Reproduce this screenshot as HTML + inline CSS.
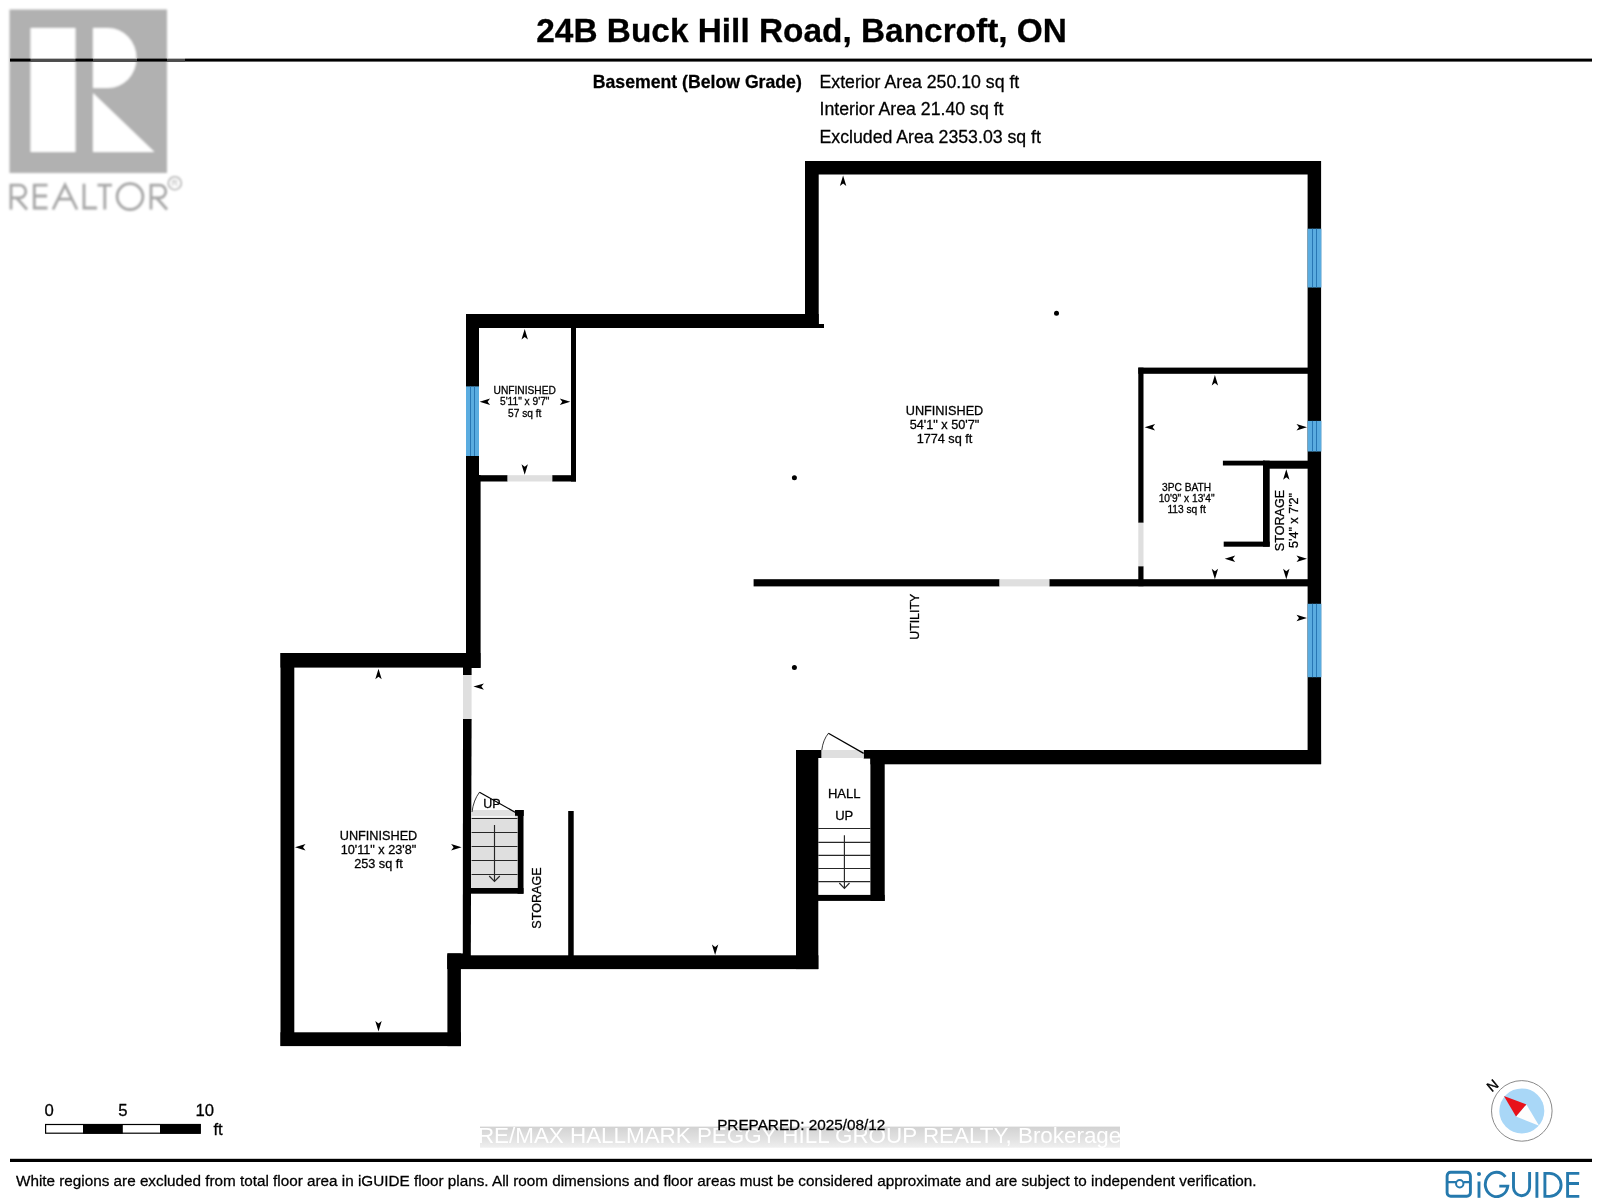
<!DOCTYPE html>
<html><head><meta charset="utf-8"><title>24B Buck Hill Road, Bancroft, ON</title>
<style>
html,body{margin:0;padding:0;background:#fff;}
body{width:1600px;height:1198px;overflow:hidden;position:relative;font-family:"Liberation Sans",sans-serif;}
svg{position:absolute;left:0;top:0;display:block;will-change:transform}
text{font-family:"Liberation Sans",sans-serif;fill:#000;stroke:#000;stroke-width:0.28px}
</style></head><body>
<svg width="1600" height="1198" viewBox="0 0 1600 1198">
<defs>
<linearGradient id="wm" x1="0" y1="0" x2="0" y2="1">
<stop offset="0" stop-color="#d2d2d2"/><stop offset="0.6" stop-color="#e2e2e2"/><stop offset="1" stop-color="#efefef"/>
</linearGradient>
<clipPath id="wmc"><rect x="480" y="1120" width="640" height="35"/></clipPath>
<filter id="bl" x="-5%" y="-5%" width="110%" height="110%"><feGaussianBlur stdDeviation="0.8"/></filter>
</defs>
<rect width="1600" height="1198" fill="#ffffff"/>

<!-- REALTOR logo -->
<g id="realtor" filter="url(#bl)">
<rect x="9.5" y="9.5" width="157.5" height="163.5" fill="#b1b1b1"/>
<rect x="30.5" y="28" width="45" height="124" fill="#fff"/>
<path d="M93 28 H108 A28.5 30 0 0 1 108 88 H93 Z" fill="#fff"/>
<path d="M93 93 L154.5 152 H93 Z" fill="#fff"/>
<g fill="none" stroke="#a6a6a6" stroke-width="2.8" stroke-linecap="butt" stroke-linejoin="miter">
<path d="M11 209.5 V185.2 H19.5 A6.3 6.3 0 0 1 19.5 197.8 H11 M16.5 197.8 L27 209.5"/>
<path d="M47.5 185.2 H34.3 V208 H47.5 M34.3 196 H47"/>
<path d="M53 209.5 L65 185 L77 209.5 M58 199.2 H72"/>
<path d="M84 183.8 V208 H97"/>
<path d="M97.5 185.2 H112 M104.8 185.2 V209.5"/>
<circle cx="130" cy="196.6" r="12.9"/>
<path d="M151 209.5 V185.2 H159.5 A6.3 6.3 0 0 1 159.5 197.8 H151 M156.5 197.8 L167 209.5"/>
</g>
<circle cx="174.8" cy="183.2" r="6.5" fill="none" stroke="#b4b4b4" stroke-width="1.6"/>
<text x="174.8" y="186.3" font-size="8.5" text-anchor="middle" style="fill:#b0b0b0;stroke:none">R</text>
</g>

<!-- header -->
<rect x="10" y="58.6" width="1582" height="3" fill="#000"/>
<g fill="#4c4c4c"><rect x="30.5" y="58.4" width="45" height="3.4"/><rect x="93" y="58.4" width="44" height="3.4"/><rect x="167" y="58.4" width="18" height="3.4"/></g><g fill="#fff" opacity="0.8"><rect x="30.5" y="58.2" width="45" height="0.7"/><rect x="93" y="58.2" width="44" height="0.7"/><rect x="167" y="58.2" width="18" height="0.7"/></g>
<text x="801.6" y="41.8" font-size="33.4" font-weight="bold" text-anchor="middle">24B Buck Hill Road, Bancroft, ON</text>
<text x="801.8" y="88" font-size="17.66" font-weight="bold" text-anchor="end">Basement (Below Grade)</text>
<text x="819.5" y="88" font-size="17.72">Exterior Area 250.10 sq ft</text>
<text x="819.5" y="115.1" font-size="17.72">Interior Area 21.40 sq ft</text>
<text x="819.5" y="142.5" font-size="17.72">Excluded Area 2353.03 sq ft</text>

<!-- walls -->
<g id="walls" fill="#000">
<!-- outer thick walls -->
<rect x="805" y="161" width="516" height="13.5"/>
<rect x="805" y="161" width="13.7" height="167"/>
<rect x="1307.6" y="161" width="13.5" height="603"/>
<rect x="466" y="314" width="352.7" height="14"/>
<rect x="818" y="324" width="6" height="4"/>
<rect x="466" y="314" width="13" height="354"/>
<rect x="466" y="475" width="14.6" height="193"/>
<rect x="280.5" y="653" width="200" height="14.6"/>
<rect x="280.5" y="653" width="13.8" height="393"/>
<rect x="280.5" y="1032.3" width="180.4" height="13.8"/>
<rect x="447.4" y="953.4" width="13.5" height="92.7"/>
<rect x="447.4" y="953.4" width="16" height="15.6"/>
<rect x="447.4" y="955.3" width="371" height="13.8"/>
<rect x="796" y="750" width="22.3" height="219.1"/>
<rect x="796" y="750" width="25.6" height="8"/>
<rect x="870.4" y="750" width="450.7" height="14.3"/><rect x="863.7" y="750" width="9" height="8.6"/>
<rect x="870.4" y="750" width="14.3" height="151"/>
<rect x="818" y="894.9" width="66.7" height="6"/>
<!-- thin walls -->
<rect x="571" y="327" width="5" height="154.5"/>
<rect x="479" y="475.2" width="28.6" height="6.3"/>
<rect x="552.2" y="475.2" width="23.8" height="6.3"/>
<rect x="463" y="667" width="8.6" height="8"/>
<polygon points="463,719 471.6,719 470.8,956 462.8,956"/>
<rect x="517.5" y="810" width="6" height="83.7"/>
<rect x="515" y="810" width="8.5" height="6"/>
<rect x="471" y="888" width="52.5" height="5.7"/>
<rect x="568.2" y="811" width="5.5" height="145"/>
<rect x="753.6" y="579.2" width="246" height="7.2"/>
<rect x="1049.3" y="579.2" width="259" height="7.2"/>
<rect x="1138.3" y="367.6" width="170" height="6.2"/>
<rect x="1138.3" y="367.6" width="5.2" height="155.2"/>
<rect x="1138.3" y="566.2" width="5.2" height="20"/>
<rect x="1222.9" y="460.7" width="42" height="4.8"/><rect x="1263" y="460.7" width="45" height="8"/>
<rect x="1263" y="460.7" width="6.7" height="86"/>
<rect x="1223.7" y="541.6" width="46" height="5.1"/>
</g>
<!-- doors (grey) -->
<g fill="#dfdfdf">
<rect x="507.6" y="475.2" width="44.6" height="6.3"/>
<rect x="463" y="675" width="8.6" height="44"/>
<rect x="999.5" y="579.2" width="49.8" height="7.2"/>
<rect x="1138.3" y="522.8" width="5.2" height="43.4"/>
<rect x="821.6" y="750" width="42.1" height="8"/>
<!-- stairs left -->
<rect x="471.1" y="810" width="46.4" height="78"/>
</g>
<!-- windows -->
<rect x="1307.6" y="228.7" width="13.8" height="58.8" fill="#5aace0"/><rect x="1312" y="228.7" width="1" height="58.8" fill="#2877b4"/><rect x="1316" y="228.7" width="1" height="58.8" fill="#2877b4"/>
<rect x="1307.6" y="420.9" width="13.8" height="30.6" fill="#5aace0"/><rect x="1312" y="420.9" width="1" height="30.6" fill="#2877b4"/><rect x="1316" y="420.9" width="1" height="30.6" fill="#2877b4"/>
<rect x="1307.6" y="603.8" width="13.8" height="73.4" fill="#5aace0"/><rect x="1312" y="603.8" width="1" height="73.4" fill="#2877b4"/><rect x="1316" y="603.8" width="1" height="73.4" fill="#2877b4"/>
<rect x="466" y="386.4" width="13" height="69.6" fill="#5aace0"/><rect x="470" y="386.4" width="1" height="69.6" fill="#2877b4"/><rect x="474" y="386.4" width="1" height="69.6" fill="#2877b4"/>

<!-- stairs left lines -->
<g stroke="#262626" stroke-width="1.15" fill="none">
<rect x="471.6" y="816" width="43.4" height="1.4" fill="#f4f4f4" stroke="none"/>
<path d="M471.6 818.5 H517.5 M471.6 832.5 H517.5 M471.6 846.5 H517.5 M471.6 860.5 H517.5 M471.6 874.5 H517.5"/>
<path d="M494.5 825 V881.5 M489.2 876 L494.5 881.5 L499.8 876"/>
<path d="M472 812 Q473.5 800 479.5 792.2" stroke="#222" stroke-width="0.9"/><path d="M479.5 792.2 L515.5 812.5" stroke="#000" stroke-width="1.25"/><rect x="515" y="810" width="8.5" height="5.8" fill="#000" stroke="none"/>
<!-- hall stairs -->
<path d="M818.3 828.5 H870.4 M818.3 842.3 H870.4 M818.3 855.3 H870.4 M818.3 868.5 H870.4 M818.3 881.6 H870.4"/>
<path d="M844.4 835.3 V888.3 M839.3 883 L844.4 888.3 L849.5 883"/>
<path d="M821.8 750 Q823 740 828.4 733.3" stroke="#222" stroke-width="0.9"/><path d="M828.4 733.3 L863.7 753.4" stroke="#000" stroke-width="1.25"/>
</g>

<!-- dots -->
<g fill="#000">
<circle cx="1056.5" cy="313.2" r="2.5"/>
<circle cx="794.4" cy="477.7" r="2.5"/>
<circle cx="794.4" cy="667.6" r="2.5"/>
<polygon points="843.1,175.5 846.3,186.0 843.1,183.5 839.9,186.0"/>
<polygon points="524.7,329.0 527.9,339.5 524.7,337.0 521.5,339.5"/>
<polygon points="479.6,401.8 490.1,405.0 487.6,401.8 490.1,398.6"/>
<polygon points="570.3,401.8 559.8,405.0 562.3,401.8 559.8,398.6"/>
<polygon points="524.7,474.8 527.9,464.3 524.7,466.8 521.5,464.3"/>
<polygon points="1214.9,375.0 1218.1,385.5 1214.9,383.0 1211.7,385.5"/>
<polygon points="1144.6,427.2 1155.1,430.4 1152.6,427.2 1155.1,424.0"/>
<polygon points="1307.0,427.2 1296.5,430.4 1299.0,427.2 1296.5,424.0"/>
<polygon points="1286.3,469.3 1289.5,479.8 1286.3,477.3 1283.1,479.8"/>
<polygon points="1224.7,558.7 1235.2,561.9 1232.7,558.7 1235.2,555.5"/>
<polygon points="1307.0,558.7 1296.5,561.9 1299.0,558.7 1296.5,555.5"/>
<polygon points="1214.9,579.2 1218.1,568.7 1214.9,571.2 1211.7,568.7"/>
<polygon points="1286.3,579.2 1289.5,568.7 1286.3,571.2 1283.1,568.7"/>
<polygon points="1307.0,618.0 1296.5,621.2 1299.0,618.0 1296.5,614.8"/>
<polygon points="473.4,686.6 483.9,689.8 481.4,686.6 483.9,683.4"/>
<polygon points="715.1,955.0 718.3,944.5 715.1,947.0 711.9,944.5"/>
<polygon points="378.5,668.8 381.7,679.3 378.5,676.8 375.3,679.3"/>
<polygon points="295.0,847.2 305.5,850.4 303.0,847.2 305.5,844.0"/>
<polygon points="461.6,847.2 451.1,850.4 453.6,847.2 451.1,844.0"/>
<polygon points="378.5,1031.6 381.7,1021.1 378.5,1023.6 375.3,1021.1"/>
</g>

<!-- labels -->
<g text-anchor="middle">
<g font-size="12.7">
<text x="944.5" y="415">UNFINISHED</text>
<text x="944.5" y="429">54'1" x 50'7"</text>
<text x="944.5" y="443">1774 sq ft</text>
<text x="378.5" y="839.8">UNFINISHED</text>
<text x="378.5" y="853.8">10'11" x 23'8"</text>
<text x="378.5" y="868.0">253 sq ft</text>
</g>
<g font-size="10.2">
<text x="524.7" y="394.1">UNFINISHED</text>
<text x="524.7" y="405.0">5'11" x 9'7"</text>
<text x="524.7" y="416.5">57 sq ft</text>
<text x="1186.6" y="490.7">3PC BATH</text>
<text x="1186.6" y="502">10'9" x 13'4"</text>
<text x="1186.6" y="513.3">113 sq ft</text>
</g>
<text x="844.2" y="797.7" font-size="13.05">HALL</text>
<text x="844.2" y="820" font-size="13.05">UP</text>
<text x="492" y="808" font-size="12.5">UP</text>
<text transform="translate(540.8 898) rotate(-90)" font-size="12.58">STORAGE</text>
<text transform="translate(918.7 616.8) rotate(-90)" font-size="12.35">UTILITY</text>
<text transform="translate(1284.3 520.5) rotate(-90)" font-size="12.58">STORAGE</text>
<text transform="translate(1298 520.5) rotate(-90)" font-size="12.58">5'4" x 7'2"</text>
</g>

<!-- scale bar -->
<g>
<rect x="45.6" y="1124.5" width="154.6" height="8.7" fill="#fff" stroke="#000" stroke-width="1.2"/>
<rect x="83" y="1124" width="39.8" height="9.7" fill="#000"/>
<rect x="160" y="1124" width="40.7" height="9.7" fill="#000"/>
<g font-size="16.7">
<text x="44.4" y="1116.3">0</text>
<text x="118.2" y="1116.3">5</text>
<text x="195.6" y="1116.3">10</text>
<text x="213.4" y="1135">ft</text>
</g>
</g>

<!-- watermark -->
<rect x="480" y="1126.6" width="640" height="21.1" fill="url(#wm)"/>
<text x="799.6" y="1143.3" font-size="22.4" text-anchor="middle" style="fill:#fff;stroke:none" clip-path="url(#wmc)">RE/MAX HALLMARK PEGGY HILL GROUP REALTY, Brokerage</text>
<text x="801.2" y="1129.8" font-size="15.3" text-anchor="middle">PREPARED: 2025/08/12</text>

<!-- compass -->
<g>
<circle cx="1521.8" cy="1110.9" r="30.3" fill="#fff" stroke="#8a8a8a" stroke-width="1"/>
<circle cx="1521.8" cy="1110.9" r="22.5" fill="#a9d7f7"/>
<polygon points="1526.4,1104.4 1516,1116.5 1539.1,1125.7" fill="#fdfdfd"/>
<polygon points="1503.9,1095.9 1526.4,1104.4 1516,1116.5" fill="#e8111a"/>
<text transform="translate(1492.4 1085.5) rotate(-40)" font-size="14" text-anchor="middle" y="5" style="stroke-width:0.4px">N</text>
</g>

<!-- footer -->
<rect x="10" y="1158.8" width="1582" height="3.2" fill="#000"/>
<text x="16.0" y="1186.1" font-size="15.27">White regions are excluded from total floor area in iGUIDE floor plans. All room dimensions and floor areas must be considered approximate and are subject to independent verification.</text>

<!-- iGUIDE logo -->
<g fill="none" stroke="#2579ad" stroke-width="2.9">
<rect x="1447.1" y="1172.3" width="23.3" height="24" rx="3.6"/>
<path d="M1447.1 1182.1 H1456 M1463.5 1182.1 H1470.4" stroke-width="2.2"/>
<circle cx="1459.75" cy="1183.75" r="3.7" stroke-width="2"/>
<path d="M1479 1181.5 V1197.8"/>
<path d="M1505.4 1176.8 A11.3 12.2 0 1 0 1507.8 1186.1 H1499.3"/>
<path d="M1513.5 1172 V1187.5 A8.05 8.3 0 0 0 1529.6 1187.5 V1172"/>
<path d="M1536.9 1172 V1197.8"/>
<path d="M1544.9 1197.8 V1173.4 H1549.6 A11.5 11.5 0 0 1 1549.6 1196.4 H1544.9"/>
<path d="M1579.3 1173.4 H1567.6 V1196.4 H1579.3 M1567.6 1183.5 H1579"/>
</g>
<circle cx="1479" cy="1174.1" r="2" fill="#2579ad"/>
</svg>
</body></html>
